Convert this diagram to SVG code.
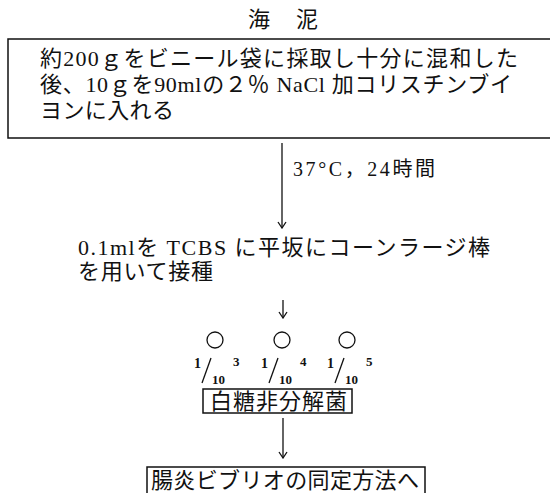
<svg xmlns="http://www.w3.org/2000/svg" width="550" height="493" viewBox="0 0 550 493">
<defs>
<style>
.t{font-family:"Liberation Serif","Noto Sans CJK JP",serif;font-size:22px;fill:#111}
.lbl{font-family:"Liberation Serif","Noto Sans CJK JP",serif;font-size:20px;fill:#111}
.fr{font-family:"Liberation Serif",serif;font-weight:bold;fill:#111}
.box{fill:none;stroke:#111;stroke-width:1.5}
.ln{fill:none;stroke:#111;stroke-width:1.3}
.circ{fill:none;stroke:#111;stroke-width:1.3}
</style>
<marker id="ah" markerWidth="10" markerHeight="10" refX="9" refY="5" orient="auto" markerUnits="userSpaceOnUse" viewBox="0 0 10 10">
<path d="M3,1 L9,5 L3,9" fill="none" stroke="#111" stroke-width="1.3"/>
</marker>
</defs>
<rect width="550" height="493" fill="#fff"/>

<g id="title">
<text class="t" x="248" y="27" textLength="70">海　泥</text>
</g>

<g id="box1">
<path class="box" d="M551,39 H8 V138 H551"/>
<text class="t" x="40" y="66" textLength="478">約200ｇをビニール袋に採取し十分に混和した</text>
<text class="t" x="40" y="92" textLength="472">後、10ｇを90mlの２％ NaCl 加コリスチンブイ</text>
<text class="t" x="40" y="118" textLength="134">ヨンに入れる</text>
</g>

<g id="step2">
<text class="t" x="78" y="255" textLength="412">0.1mlを TCBS に平坂にコーンラージ棒</text>
<text class="t" x="78" y="279" textLength="135">を用いて接種</text>
</g>

<g id="plates">
<circle class="circ" cx="215" cy="340" r="8"/>
<circle class="circ" cx="282" cy="340" r="8"/>
<circle class="circ" cx="347" cy="340" r="8"/>
<g id="frac3">
<text class="fr" x="194" y="368" font-size="14">1</text>
<line class="ln" x1="202" y1="383" x2="211" y2="358"/>
<text class="fr" x="212" y="384" font-size="13">10</text>
<text class="fr" x="233" y="366" font-size="13">3</text>
</g>
<g id="frac4">
<text class="fr" x="261" y="368" font-size="14">1</text>
<line class="ln" x1="269" y1="383" x2="278" y2="358"/>
<text class="fr" x="279" y="384" font-size="13">10</text>
<text class="fr" x="300" y="366" font-size="13">4</text>
</g>
<g id="frac5">
<text class="fr" x="327" y="368" font-size="14">1</text>
<line class="ln" x1="335" y1="383" x2="344" y2="358"/>
<text class="fr" x="345" y="384" font-size="13">10</text>
<text class="fr" x="366" y="366" font-size="13">5</text>
</g>
</g>

<g id="box2">
<rect class="box" x="203" y="389" width="149" height="24"/>
<text class="t" x="210" y="409" textLength="137">白糖非分解菌</text>
</g>

<g id="box3">
<path class="box" d="M147,500 V467 H425 V500"/>
<text class="t" x="151" y="488" textLength="268">腸炎ビブリオの同定方法へ</text>
</g>

<g id="connectors">
<line class="ln" x1="282" y1="143" x2="282" y2="228" marker-end="url(#ah)"/>
<text class="lbl" x="293" y="176" textLength="142">37°C，24時間</text>
<line class="ln" x1="283" y1="300" x2="283" y2="318" marker-end="url(#ah)"/>
<line class="ln" x1="283" y1="418" x2="283" y2="458" marker-end="url(#ah)"/>
</g>
</svg>
